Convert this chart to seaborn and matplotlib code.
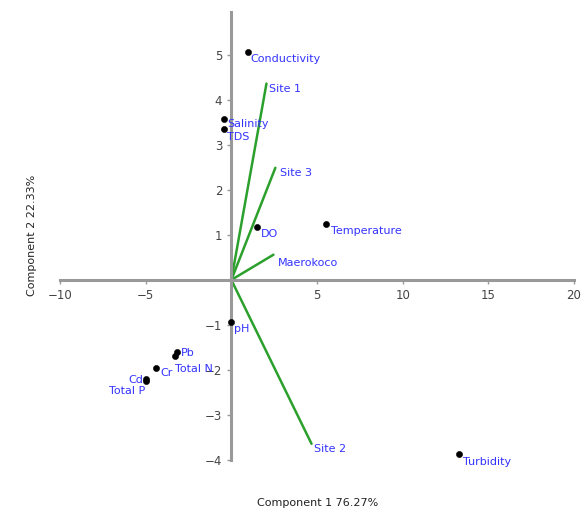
import numpy as np
import pandas as pd
import matplotlib
matplotlib.use("Agg")
import matplotlib.pyplot as plt
import seaborn as sns

# variable scores (points)
var_names = ["Conductivity", "Salinity", "TDS", "DO", "Temperature", "pH",
             "Pb", "Total N", "Cr", "Cd", "Total P", "Turbidity"]
var_pc1 = [0.95, -0.4, -0.4, 1.5, 5.55, 0.0, -3.2, -3.3, -4.4, -5.0, -5.0, 13.3]
var_pc2 = [5.07, 3.58, 3.36, 1.18, 1.24, -0.93, -1.6, -1.7, -1.95, -2.2, -2.25, -3.87]

# site loadings (vectors)
site_names = ["Site 1", "Site 3", "Maerokoco", "Site 2"]
site_pc1 = [2.05, 2.57, 2.46, 4.68]
site_pc2 = [4.36, 2.49, 0.56, -3.64]

x_ticks = [-10, -5, 5, 10, 15, 20]
y_ticks = [-4, -3, -2, -1, 1, 2, 3, 4, 5]

# label offsets in points
var_off = {"Conductivity": (2, -5), "Salinity": (2, -4), "TDS": (2, -6), "DO": (3, -5),
           "Temperature": (3, -5), "pH": (2, -5), "Pb": (3, -1), "Total N": (0, -9),
           "Cr": (3, -4), "Cd": (-2, -1), "Total P": (0, -7), "Turbidity": (3, -6)}
var_ha = {"Cd": "right", "Total P": "right"}
site_off = {"Site 1": (2, -4), "Site 3": (3, -4), "Maerokoco": (3, -6), "Site 2": (2, -4)}

pts = pd.DataFrame({"name": var_names, "pc1": var_pc1, "pc2": var_pc2})

sns.set_style("white")
plt.rcParams["font.family"] = ["DejaVu Sans"]

fig = plt.figure(figsize=(5.87, 5.16), dpi=100)
ax = fig.add_axes([60 / 587, 1 - 460 / 516, (574 - 60) / 587, (460 - 12) / 516])

for nm, sx, sy in zip(site_names, site_pc1, site_pc2):
    ax.plot([0, sx], [0, sy], color="#2ca02c", lw=1.8, zorder=2)
    dx, dy = site_off[nm]
    ax.annotate(nm, (sx, sy), xytext=(dx, dy), textcoords="offset points",
                color="#3333ff", fontsize=8, ha="left", va="center", annotation_clip=False)

sns.scatterplot(data=pts, x="pc1", y="pc2", color="black", s=20, edgecolor="black",
                ax=ax, zorder=3, clip_on=False)
for nm, px, py in zip(var_names, var_pc1, var_pc2):
    dx, dy = var_off[nm]
    ax.annotate(nm, (px, py), xytext=(dx, dy), textcoords="offset points",
                color="#3333ff", fontsize=8, ha=var_ha.get(nm, "left"), va="center",
                annotation_clip=False)

ax.set_xlim(-10, 20)
ax.set_ylim(-4, 5.95)
ax.spines["left"].set_position(("data", 0))
ax.spines["bottom"].set_position(("data", 0))
ax.spines["top"].set_visible(False)
ax.spines["right"].set_visible(False)
for sp in ["left", "bottom"]:
    ax.spines[sp].set_color("#999999")
    ax.spines[sp].set_linewidth(2.2)
ax.set_xticks(x_ticks)
ax.set_yticks(y_ticks)
ax.tick_params(axis="both", direction="out", length=3, width=1, color="#999999",
               labelsize=8.5, labelcolor="#444444", bottom=True, left=True)
ax.set_xlabel("")
ax.set_ylabel("")

fig.text(318 / 587, 1 - 503 / 516, "Component 1 76.27%", ha="center", va="center",
         fontsize=8, color="#222222")
fig.text(32 / 587, 1 - 235 / 516, "Component 2 22.33%", ha="center", va="center",
         rotation=90, fontsize=8, color="#222222")

fig.savefig("out.png", dpi=100)
